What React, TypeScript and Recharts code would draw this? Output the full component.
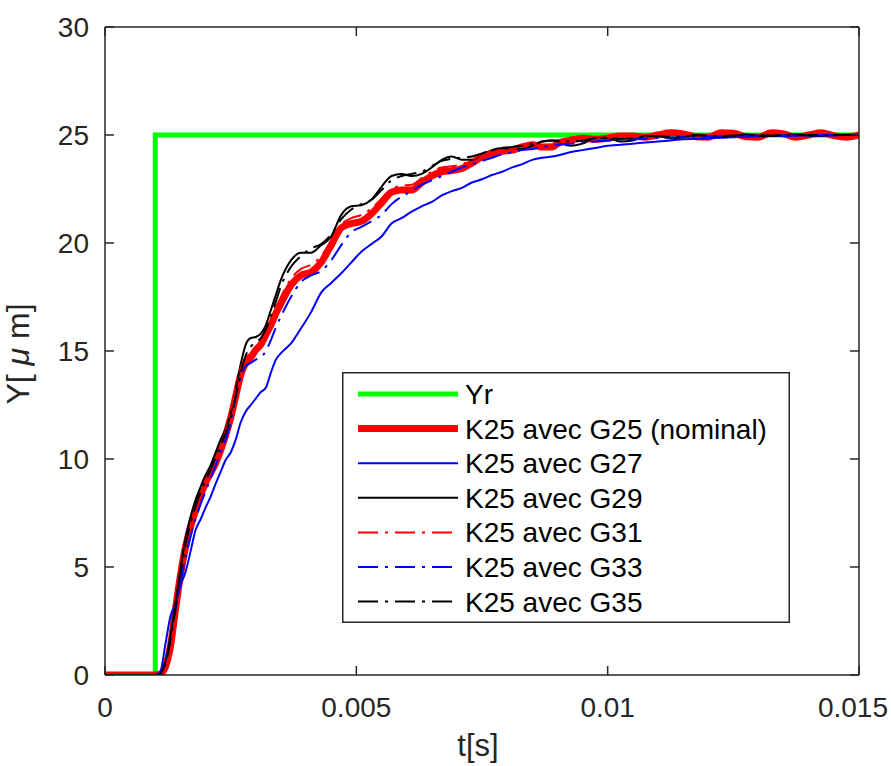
import React from 'react';
import { LineChart, Line, XAxis, YAxis, Legend } from 'recharts';

// ---- data ----
const tValues = [
  0, 0.0009, 0.001, 0.0011, 0.0012, 0.0013, 0.0014, 0.0015, 0.0016, 0.0017, 0.0018, 0.0019, 0.002,
  0.0021, 0.0022, 0.0023, 0.0024, 0.0025, 0.0026, 0.0027, 0.0028, 0.0029, 0.003, 0.0031, 0.0032,
  0.0033, 0.0034, 0.0035,
  0.0037, 0.0039, 0.0041, 0.0043, 0.0045, 0.0047, 0.0049, 0.0051, 0.0053, 0.0055, 0.0057, 0.0059,
  0.0061, 0.0063, 0.0065, 0.0067, 0.0069, 0.0071, 0.0073, 0.0075, 0.0077, 0.0079, 0.0081, 0.0083,
  0.0085, 0.0087, 0.0089,
  0.009, 0.00925, 0.0095, 0.00975, 0.01, 0.01025, 0.0105, 0.01075, 0.011, 0.01125, 0.0115, 0.01175,
  0.012, 0.01225, 0.0125, 0.01275, 0.013, 0.01325, 0.0135, 0.01375, 0.014, 0.01425, 0.0145, 0.01475,
  0.015,
];

const yrTimes = [0, 0.001, 0.015];
const yrValues = [0, 25, 25];

const g25 = [
  0, 0, 0, 0.05, 0.37, 1.3, 3.0, 4.6, 5.9, 6.85, 7.6, 8.3, 8.9, 9.35, 9.8, 10.4, 11.1, 11.9, 12.9, 13.9,
  14.45, 14.7, 15.05, 15.3, 15.75, 16.2, 16.75, 17.2,
  18.05, 18.5, 18.65, 19.1, 19.9, 20.7, 20.9, 21.0, 21.35, 21.85, 22.35, 22.45, 22.45, 22.8, 23.1, 23.3,
  23.35, 23.45, 23.7, 24.0, 24.15, 24.25, 24.3, 24.45, 24.55, 24.45, 24.45,
  24.6, 24.75, 24.85, 24.8, 24.85, 24.95, 24.95, 24.9, 25.0, 25.1, 25.05, 24.92, 24.9, 25.1, 25.08,
  24.92, 24.9, 25.1, 25.05, 24.9, 25.0, 25.1, 24.97, 24.9, 25.0,
];

const g27 = [
  0, 0, 0, 0.15, 1.4, 2.7, 3.3, 4.15, 4.75, 5.7, 6.7, 7.2, 7.75, 8.25, 8.85, 9.4, 9.95, 10.3, 10.9, 11.7,
  12.2, 12.5, 12.8, 13.1, 13.3, 14.0, 14.6, 14.9,
  15.35, 16.05, 16.8, 17.7, 18.15, 18.6, 19.1, 19.6, 19.95, 20.3, 20.9, 21.15, 21.45, 21.7, 21.9, 22.2,
  22.4, 22.55, 22.8, 22.95, 23.15, 23.3, 23.5, 23.65, 23.85, 23.95, 24.0,
  24.05, 24.2, 24.3, 24.4, 24.5, 24.55, 24.6, 24.65, 24.7, 24.75, 24.8, 24.82, 24.85, 24.87, 24.9,
  24.92, 24.93, 24.95, 24.95, 24.96, 24.97, 24.98, 24.98, 24.99, 25.0,
];

const g29 = [
  0, 0, 0, 0.05, 0.6, 1.8, 3.3, 4.9, 6.3, 7.3, 8.1, 8.7, 9.25, 9.7, 10.3, 10.9, 11.4, 12.1, 13.2, 14.4,
  15.3, 15.6, 15.65, 15.8, 16.2, 16.9, 17.6, 18.3,
  19.2, 19.55, 19.55, 19.9, 20.3, 21.3, 21.7, 21.75, 22.0, 22.6, 23.1, 23.2, 23.1, 23.2, 23.5, 23.85,
  24.0, 23.85, 23.85, 24.1, 24.3, 24.4, 24.35, 24.35, 24.5, 24.7, 24.75,
  24.7, 24.5, 24.6, 24.85, 24.85, 24.7, 24.75, 24.95, 24.95, 24.85, 24.9, 25.0, 24.95, 24.9, 24.97,
  25.02, 24.97, 24.95, 25.0, 25.02, 24.98, 24.97, 25.0, 25.01, 25.0,
];

const g31 = [
  0, 0, 0, 0.05, 0.45, 1.5, 3.1, 4.7, 6.0, 6.95, 7.7, 8.4, 9.0, 9.45, 9.95, 10.55, 11.3, 12.1, 13.2, 14.2,
  14.7, 14.9, 15.2, 15.5, 15.95, 16.45, 17.0, 17.5,
  18.35, 18.8, 19.0, 19.4, 20.1, 20.85, 21.15, 21.3, 21.6, 22.05, 22.5, 22.65, 22.7, 23.0, 23.3, 23.5,
  23.55, 23.65, 23.85, 24.1, 24.25, 24.3, 24.35, 24.5, 24.6, 24.55, 24.55,
  24.6, 24.75, 24.85, 24.8, 24.85, 24.95, 24.93, 24.88, 24.97, 25.05, 25.0, 24.93, 24.95, 25.05, 25.02,
  24.95, 24.97, 25.04, 25.01, 24.96, 25.0, 25.03, 24.99, 24.97, 25.0,
];

const g33 = [
  0, 0, 0, 0.05, 0.5, 1.6, 3.0, 4.3, 5.4, 6.4, 7.2, 7.9, 8.5, 9.1, 9.7, 10.3, 10.9, 11.7, 12.9, 13.8,
  14.3, 14.45, 14.6, 14.7, 15.0, 15.5, 16.1, 16.6,
  17.5, 18.2, 18.5, 18.7, 19.2, 19.9, 20.5, 20.75, 21.0, 21.3, 21.8, 22.15, 22.4, 22.7, 22.9, 23.1,
  23.3, 23.5, 23.65, 23.8, 23.95, 24.1, 24.2, 24.3, 24.35, 24.45, 24.5,
  24.55, 24.6, 24.65, 24.7, 24.75, 24.78, 24.8, 24.83, 24.86, 24.88, 24.9, 24.92, 24.93, 24.94, 24.95,
  24.96, 24.97, 24.97, 24.98, 24.98, 24.99, 24.99, 25.0, 25.0, 25.0,
];

const g35 = [
  0, 0, 0, 0.05, 0.5, 1.6, 3.1, 4.7, 6.0, 7.0, 7.8, 8.45, 9.0, 9.5, 10.05, 10.6, 11.2, 11.9, 12.9, 14.0,
  14.8, 15.2, 15.4, 15.6, 16.0, 16.6, 17.3, 18.0,
  18.9, 19.4, 19.75, 19.95, 20.4, 21.1, 21.55, 21.8, 22.0, 22.45, 22.9, 23.1, 23.2, 23.3, 23.55, 23.8,
  23.9, 23.95, 24.0, 24.15, 24.3, 24.4, 24.45, 24.5, 24.6, 24.7, 24.75,
  24.75, 24.7, 24.75, 24.85, 24.88, 24.82, 24.85, 24.93, 24.95, 24.92, 24.93, 24.98, 24.97, 24.95, 24.98,
  25.0, 24.99, 24.98, 25.0, 25.01, 25.0, 24.99, 25.0, 25.0, 25.0,
];

const xTicks = [0, 0.005, 0.01, 0.015];
const yTicks = [0, 5, 10, 15, 20, 25, 30];

const yrLabel = 'Yr';
const seriesNames = {
  g25: 'K25 avec G25 (nominal)',
  g27: 'K25 avec G27',
  g29: 'K25 avec G29',
  g31: 'K25 avec G31',
  g33: 'K25 avec G33',
  g35: 'K25 avec G35',
};

// ---- build ----
const rows = tValues.map((t, i) => ({
  t,
  g25: g25[i],
  g27: g27[i],
  g29: g29[i],
  g31: g31[i],
  g33: g33[i],
  g35: g35[i],
}));
const yrRows = yrTimes.map((t, i) => ({ t, yr: yrValues[i] }));

const FONT = '"Liberation Sans", Arial, Helvetica, sans-serif';
const AX = '#262626';
const DASHDOT = '20 7 3 7';

const styles = [
  { key: 'yr', name: yrLabel, color: '#00ff00', width: 5, dash: undefined },
  { key: 'g25', name: seriesNames.g25, color: '#ff0000', width: 7, dash: undefined },
  { key: 'g27', name: seriesNames.g27, color: '#0000ff', width: 2, dash: undefined },
  { key: 'g29', name: seriesNames.g29, color: '#000000', width: 2, dash: undefined },
  { key: 'g31', name: seriesNames.g31, color: '#ff0000', width: 2, dash: DASHDOT },
  { key: 'g33', name: seriesNames.g33, color: '#0000ff', width: 2, dash: DASHDOT },
  { key: 'g35', name: seriesNames.g35, color: '#000000', width: 2, dash: DASHDOT },
];

const TICK_LEN = 9;
const CHART_W = 891;
const TICK_FONT = 28;

const LeftTick = (props: any) => {
  const { x, y, payload } = props;
  return (
    <g>
      <line x1={x} x2={x + TICK_LEN} y1={y} y2={y} stroke={AX} strokeWidth={1.5} />
      <text x={x - 16} y={y + 10} textAnchor="end" fill={AX} fontSize={TICK_FONT} fontFamily={FONT}>
        {String(payload.value)}
      </text>
    </g>
  );
};

const RightTick = (props: any) => {
  const { x, y } = props;
  return <line x1={x} x2={x - TICK_LEN} y1={y} y2={y} stroke={AX} strokeWidth={1.5} />;
};

const BottomTick = (props: any) => {
  const { x, y, payload } = props;
  const label = String(payload.value);
  // keep the label inside the figure (as MATLAB does)
  const approxHalf = (label.replace('.', '').length * 0.556 + (label.includes('.') ? 0.278 : 0)) * TICK_FONT / 2;
  const overflow = x + approxHalf - (CHART_W - 3);
  const tx = overflow > 0 ? x - overflow : x;
  return (
    <g>
      <line x1={x} x2={x} y1={y} y2={y - TICK_LEN} stroke={AX} strokeWidth={1.5} />
      <text x={tx} y={y + 42} textAnchor="middle" fill={AX} fontSize={TICK_FONT} fontFamily={FONT}>
        {label}
      </text>
    </g>
  );
};

const TopTick = (props: any) => {
  const { x, y } = props;
  return <line x1={x} x2={x} y1={y} y2={y + TICK_LEN} stroke={AX} strokeWidth={1.5} />;
};

const YLabel = (props: any) => {
  const vb = props.viewBox || {};
  const cx = 29;
  const cy = (vb.y ?? 27) + (vb.height ?? 648) / 2 + 3;
  return (
    <text
      x={cx}
      y={cy}
      transform={`rotate(-90, ${cx}, ${cy})`}
      textAnchor="middle"
      fill={AX}
      fontSize={32}
      fontFamily={FONT}
    >
      <tspan>Y[ </tspan>
      <tspan fontStyle="italic">μ</tspan>
      <tspan> m]</tspan>
    </text>
  );
};

const XLabel = (props: any) => {
  const vb = props.viewBox || {};
  const cx = (vb.x ?? 105) + (vb.width ?? 754) / 2 - 4;
  return (
    <text x={cx} y={756} textAnchor="middle" fill={AX} fontSize={31} fontFamily={FONT}>
      t[s]
    </text>
  );
};

const LEG_W = 448;
const LEG_H = 251;

const LegendBox = () => (
  <svg width={LEG_W} height={LEG_H} style={{ display: 'block' }}>
    <rect x={0.75} y={0.75} width={LEG_W - 1.5} height={LEG_H - 1.5} fill="#ffffff" stroke={AX} strokeWidth={1.5} />
    {styles.map((s, i) => {
      const cy = 22 + i * 34.6;
      return (
        <g key={s.key}>
          <line
            x1={16}
            x2={116}
            y1={cy}
            y2={cy}
            stroke={s.color}
            strokeWidth={s.width}
            strokeDasharray={s.dash}
          />
          <text x={123} y={cy + 10} fill="#000" fontSize={28} fontFamily={FONT}>
            {s.name}
          </text>
        </g>
      );
    })}
  </svg>
);

export default function App() {
  return (
    <div style={{ position: 'absolute', left: 0, top: 0, width: 891, height: 766, background: '#fff' }}>
      <LineChart
        width={891}
        height={766}
        data={rows}
        margin={{ top: 26, right: 31, bottom: 31, left: 45 }}
      >
        <XAxis
          dataKey="t"
          type="number"
          domain={[0, 0.015]}
          ticks={xTicks}
          allowDataOverflow
          height={60}
          tickSize={0}
          tickMargin={0}
          tickLine={false}
          axisLine={{ stroke: AX, strokeWidth: 1.5 }}
          tick={(p: any) => <BottomTick {...p} />}
          interval={0}
          label={<XLabel />}
        />
        <XAxis
          xAxisId="top"
          orientation="top"
          dataKey="t"
          type="number"
          domain={[0, 0.015]}
          ticks={xTicks}
          allowDataOverflow
          height={1}
          tickSize={0}
          tickMargin={0}
          tickLine={false}
          axisLine={{ stroke: AX, strokeWidth: 1.5 }}
          tick={(p: any) => <TopTick {...p} />}
          interval={0}
        />
        <YAxis
          type="number"
          domain={[0, 30]}
          ticks={yTicks}
          allowDataOverflow
          width={60}
          tickSize={0}
          tickMargin={0}
          tickLine={false}
          axisLine={{ stroke: AX, strokeWidth: 1.5 }}
          tick={(p: any) => <LeftTick {...p} />}
          interval={0}
          label={<YLabel />}
        />
        <YAxis
          yAxisId="right"
          orientation="right"
          type="number"
          domain={[0, 30]}
          ticks={yTicks}
          allowDataOverflow
          width={1}
          tickSize={0}
          tickMargin={0}
          tickLine={false}
          axisLine={{ stroke: AX, strokeWidth: 1.5 }}
          tick={(p: any) => <RightTick {...p} />}
          interval={0}
        />
        <Legend
          layout="vertical"
          align="center"
          verticalAlign="middle"
          wrapperStyle={{ position: 'absolute', left: 342, top: 372, width: LEG_W, height: LEG_H }}
          content={() => <LegendBox />}
        />
        <Line
          data={yrRows}
          dataKey="yr"
          name={yrLabel}
          type="stepAfter"
          stroke="#00ff00"
          strokeWidth={5}
          dot={false}
          activeDot={false}
          isAnimationActive={false}
        />
        {styles.slice(1).map((s) => (
          <Line
            key={s.key}
            dataKey={s.key}
            name={s.name}
            type="monotone"
            stroke={s.color}
            strokeWidth={s.width}
            strokeDasharray={s.dash}
            dot={false}
            activeDot={false}
            isAnimationActive={false}
          />
        ))}
      </LineChart>
    </div>
  );
}
